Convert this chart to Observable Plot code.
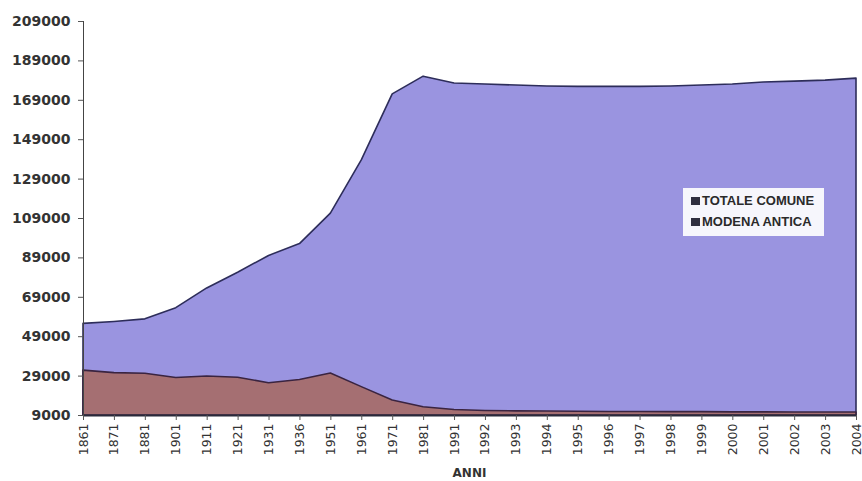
<!DOCTYPE html>
<html>
<head>
<meta charset="utf-8">
<script src="https://cdn.jsdelivr.net/npm/d3@7"></script>
<script src="https://cdn.jsdelivr.net/npm/@observablehq/plot@0.6"></script>
<style>
  html, body { margin: 0; padding: 0; background: #fff; }
  #wrap { position: relative; width: 862px; height: 481px; }
  #legend {
    position: absolute; left: 683px; top: 188px; width: 141px; height: 48px;
    background: #f6f6fc; box-sizing: border-box; padding: 5px 0 0 8px;
    font-family: "Liberation Sans", Arial, sans-serif; font-weight: bold; font-size: 13px; color: #2a2a2a;
  }
  #legend div { height: 21px; line-height: 15px; white-space: nowrap; }
  #legend span.sw { display: inline-block; width: 9px; height: 8px; margin-right: 2px; background: #2f2f3f; }
  #xlabel {
    position: absolute; left: 83px; top: 466px; width: 773px; text-align: center;
    font-family: "DejaVu Sans", Verdana, sans-serif; font-weight: bold; font-size: 12px; color: #333;
  }
</style>
</head>
<body>
<div id="wrap">
  <div id="chart"></div>
  <div id="legend">
    <div><span class="sw"></span>TOTALE COMUNE</div>
    <div><span class="sw"></span>MODENA ANTICA</div>
  </div>
  <div id="xlabel">ANNI</div>
</div>
<script>
const years = ["1861","1871","1881","1901","1911","1921","1931","1936","1951","1961","1971","1981","1991","1992","1993","1994","1995","1996","1997","1998","1999","2000","2001","2002","2003","2004"];
const totaleComune = [55500, 56500, 57800, 63500, 73500, 81500, 90000, 96000, 111500, 138500, 172000, 181000, 177500, 177000, 176500, 176000, 175800, 175800, 175800, 176000, 176500, 177000, 178000, 178500, 179000, 180000];
const modenaAntica = [31800, 30500, 30200, 28000, 28800, 28200, 25400, 27000, 30300, 23400, 16600, 13200, 11800, 11300, 11100, 11000, 10900, 10800, 10800, 10700, 10700, 10600, 10600, 10500, 10500, 10500];
const yTicks = d3.range(9000, 209001, 20000);

const rowsTot = years.map((y, i) => ({ idx: i, v: totaleComune[i] }));
const rowsAnt = years.map((y, i) => ({ idx: i, v: modenaAntica[i] }));

const chart = Plot.plot({
  width: 862,
  height: 481,
  marginLeft: 83,
  marginRight: 6,
  marginTop: 21,
  marginBottom: 66,
  style: { fontFamily: "'DejaVu Sans', Verdana, sans-serif", background: "#fff", color: "#333" },
  x: { type: "linear", domain: [0, years.length - 1], label: null },
  y: { domain: [9000, 209000], label: null },
  marks: [
    Plot.areaY(rowsTot, { x: "idx", y1: 9000, y2: "v", fill: "#9a94e0", stroke: "#2d2d5a", strokeWidth: 1.6 }),
    Plot.areaY(rowsAnt, { x: "idx", y1: 9000, y2: "v", fill: "#a56f72", stroke: "#3a2440", strokeWidth: 1.6 }),
    Plot.ruleY([9000], { stroke: "#2a2a3a", strokeWidth: 2 }),
    Plot.ruleX([0], { y1: 9000, y2: 209000, stroke: "#444", strokeWidth: 1 }),
    Plot.axisY({ ticks: yTicks, tickFormat: d => String(d), tickSize: 5, tickPadding: 8, fontSize: 14, fontWeight: "bold", fill: "#333", stroke: "#555", label: null }),
    Plot.axisX({ ticks: d3.range(years.length), tickFormat: i => years[i], tickSize: 5, tickRotate: -90, tickPadding: 3, fontSize: 12.5, fill: "#333", stroke: "#555", label: null })
  ]
});
document.getElementById("chart").appendChild(chart);
</script>
</body>
</html>
